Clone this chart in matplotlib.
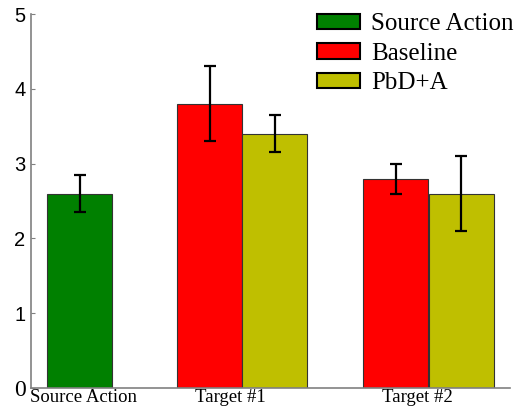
import matplotlib
matplotlib.use('Agg')
import matplotlib.pyplot as plt
import numpy as np

# data
groups = ['Source Action', 'Target #1', 'Target #2']
series = ['Source Action', 'Baseline', 'PbD+A']
colors = ['#008000', '#ff0000', '#bfbf00']
source_val = [2.6]
source_err = [0.245]
baseline_val = [3.8, 2.8]
baseline_err = [0.5, 0.2]
pbda_val = [3.4, 2.6]
pbda_err = [0.25, 0.5]

fig = plt.figure(figsize=(5.22, 4.16), dpi=100)
ax = fig.add_axes([0.0594, 0.0673, 0.918, 0.899])

# bar positions (bar width = 1)
pos_src = [0.75]
pos_base = [2.75, 5.61]
pos_pbda = [3.75, 6.62]

ekw = dict(elinewidth=1.6, capsize=4, capthick=1.6, ecolor='black')
ax.bar(pos_src, source_val, width=1, yerr=source_err, color=colors[0],
       edgecolor='#333333', linewidth=0.8, label=series[0], error_kw=ekw)
ax.bar(pos_base, baseline_val, width=1, yerr=baseline_err, color=colors[1],
       edgecolor='#333333', linewidth=0.8, label=series[1], error_kw=ekw)
ax.bar(pos_pbda, pbda_val, width=1, yerr=pbda_err, color=colors[2],
       edgecolor='#333333', linewidth=0.8, label=series[2], error_kw=ekw)

ax.set_xlim(0, 7.37)
ax.set_ylim(0, 5)
ax.set_yticks([0, 1, 2, 3, 4, 5])
ax.set_yticklabels(['0', '1', '2', '3', '4', '5'], family='Liberation Sans', fontsize=14.5)
ax.get_yticklabels()[0].set_family('Liberation Serif')
ax.get_yticklabels()[0].set_fontsize(17)
ax.set_xticks([0.8, 3.06, 5.95])
ax.set_xticklabels(groups, family='Liberation Serif', fontsize=13.5)
ax.tick_params(axis='x', length=0, pad=1)
ax.tick_params(axis='y', direction='in', length=3, color='#808080', pad=4)

for s in ['top', 'right']:
    ax.spines[s].set_visible(False)
for s in ['left', 'bottom']:
    ax.spines[s].set_color('#808080')
    ax.spines[s].set_linewidth(1.2)

leg = fig.legend(loc='upper left', bbox_to_anchor=(317 / 522, 0.968), frameon=False,
                 prop={'family': 'Liberation Serif', 'size': 18},
                 handlelength=1.72, handleheight=0.6, labelspacing=0.3,
                 handletextpad=0.45, borderpad=0, borderaxespad=0)
for h in leg.legend_handles:
    h.set_edgecolor('black')
    h.set_linewidth(1.5)

plt.savefig('out.png', dpi=100)
